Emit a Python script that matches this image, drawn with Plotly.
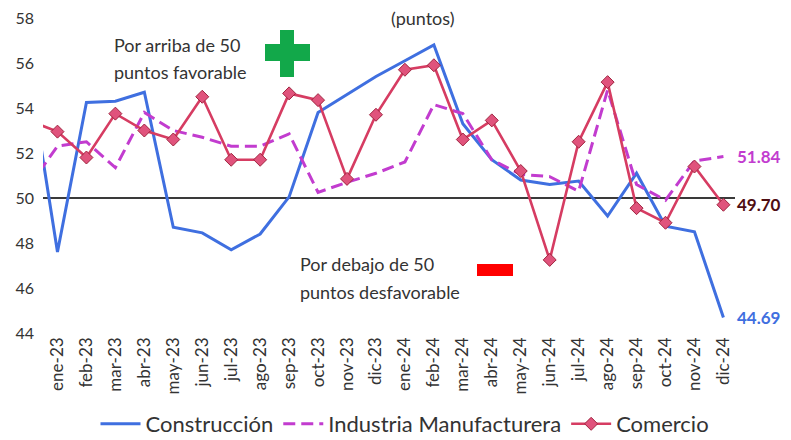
"""
Indicadores de confianza empresarial por sector (puntos).
"""

import plotly.graph_objects as go

# dic-22 sits just left of the visible plot area (the reference is cropped there)
MESES = [
    "dic-22",
    "ene-23", "feb-23", "mar-23", "abr-23", "may-23", "jun-23",
    "jul-23", "ago-23", "sep-23", "oct-23", "nov-23", "dic-23",
    "ene-24", "feb-24", "mar-24", "abr-24", "may-24", "jun-24",
    "jul-24", "ago-24", "sep-24", "oct-24", "nov-24", "dic-24",
]

CONSTRUCCION = [
    55.8,
    47.6, 54.25, 54.3, 54.7, 48.7, 48.45, 47.7, 48.4, 50.05, 53.8, 54.6, 55.4,
    56.1, 56.8, 53.3, 51.7, 50.8, 50.6, 50.75, 49.2, 51.1, 48.75, 48.5, 44.69,
]
INDUSTRIA = [
    50.5,
    52.3, 52.5, 51.35, 53.8, 53.0, 52.7, 52.3, 52.3, 52.85, 50.25, 50.7, 51.1,
    51.6, 54.15, 53.75, 51.7, 51.05, 50.95, 50.3, 54.8, 50.6, 49.9, 51.65, 51.84,
]
COMERCIO = [
    53.45,
    52.95, 51.8, 53.75, 53.0, 52.6, 54.5, 51.7, 51.7, 54.65, 54.35, 50.85, 53.7,
    55.7, 55.9, 52.6, 53.45, 51.2, 47.25, 52.5, 55.15, 49.55, 48.9, 51.4, 49.70,
]

Y_TICKS = [44, 46, 48, 50, 52, 54, 56, 58]

BLUE = "#3f6fe0"
PURPLE = "#c23ccf"
RED = "#d63c62"
MAROON = "#4e0d12"
FONT = "Lato"

# the page body adds an 8px margin, so the figure is drawn 8px in from the window edge
PAGE = 8
W, H = 791 - PAGE, 440 - PAGE
# plot area in window pixels
L, R, T, B = 43, 735, 18, 333


def px(x):
    return (x - L) / (R - L)


def py(y):
    return (B - y) / (B - T)


idx = list(range(-1, len(MESES) - 1))

fig = go.Figure()
fig.add_trace(go.Scatter(
    x=idx, y=CONSTRUCCION, name="Construcción", mode="lines",
    line=dict(color=BLUE, width=3),
))
fig.add_trace(go.Scatter(
    x=idx, y=INDUSTRIA, name="Industria Manufacturera", mode="lines",
    line=dict(color=PURPLE, width=3, dash="12px,6px"),
))
fig.add_trace(go.Scatter(
    x=idx, y=COMERCIO, name="Comercio", mode="lines+markers",
    line=dict(color=RED, width=2.6),
    marker=dict(symbol="diamond", size=10, color="#e0537c",
                line=dict(color="#a0243f", width=1)),
))

fig.add_hline(y=50, line=dict(color="#3a3a3a", width=2), layer="below")

# last values next to the line ends
for serie, color in ((INDUSTRIA, PURPLE), (COMERCIO, MAROON), (CONSTRUCCION, BLUE)):
    fig.add_annotation(
        x=idx[-1], y=serie[-1], text=f"<b>{serie[-1]:.2f}</b>",
        showarrow=False, xanchor="left", xshift=12,
        font=dict(family=FONT, size=17, color=color),
    )

notes = [
    ("(puntos)", 423, 18, "center"),
    ("Por arriba de 50", 112, 45, "left"),
    ("puntos favorable", 112, 72, "left"),
    ("Por debajo de 50", 298, 264, "left"),
    ("puntos desfavorable", 298, 292, "left"),
]
for text, x, y, anchor in notes:
    fig.add_annotation(
        x=px(x), y=py(y), xref="paper", yref="paper", text=text,
        showarrow=False, xanchor=anchor, yanchor="middle",
        font=dict(family=FONT, size=18, color="#333333"),
    )

# green plus and red minus signs
for x0, y0, x1, y1, color in (
    (280, 30, 294, 77, "#12a84a"),
    (265, 44, 310, 61, "#12a84a"),
    (477, 264, 513, 276, "#ff0000"),
):
    fig.add_shape(
        type="rect", xref="paper", yref="paper",
        x0=px(x0), x1=px(x1), y0=py(y1), y1=py(y0),
        fillcolor=color, line=dict(width=0),
    )

fig.update_layout(
    width=W, height=H,
    margin=dict(l=L - PAGE, r=W - (R - PAGE), t=T - PAGE, b=H - (B - PAGE),
                autoexpand=False),
    paper_bgcolor="white", plot_bgcolor="white",
    font=dict(family=FONT, color="#333333"),
    showlegend=True,
    legend=dict(
        orientation="h", x=px(405), xanchor="center", y=py(445), yanchor="bottom",
        font=dict(family=FONT, size=22, color="#333333"),
        itemwidth=40, tracegroupgap=0, bgcolor="rgba(0,0,0,0)",
    ),
)
fig.update_xaxes(
    range=[-0.5, 23.4], tickmode="array",
    tickvals=idx[1:], ticktext=MESES[1:], tickangle=-90,
    showgrid=False, zeroline=False, showline=False, ticks="",
    tickfont=dict(family=FONT, size=17, color="#333333"),
    automargin=False,
)
fig.update_yaxes(
    range=[44, 58], tickvals=Y_TICKS,
    showgrid=False, zeroline=False, showline=False, ticks="",
    tickfont=dict(family=FONT, size=16, color="#333333"),
    ticklabelstandoff=8, ticklabeloverflow="allow", automargin=False,
)

fig.write_html("out.html")
